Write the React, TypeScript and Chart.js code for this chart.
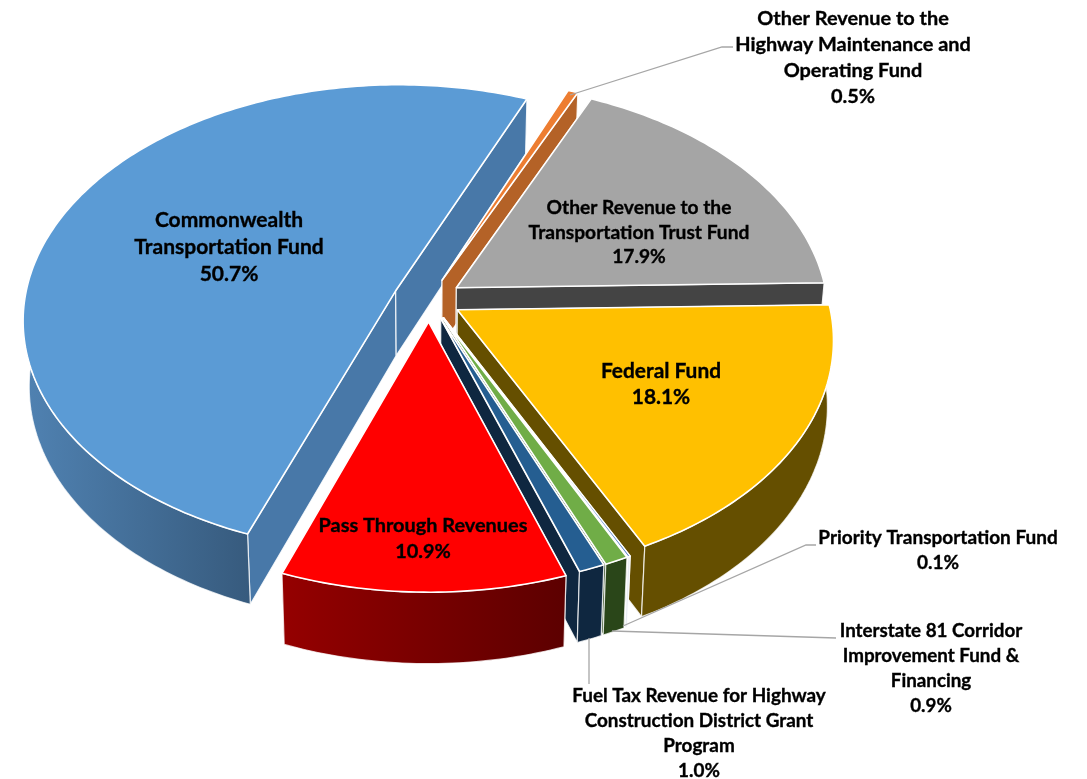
import React, { useEffect, useRef } from "react";
import { Chart, registerables } from "chart.js";

Chart.register(...registerables);

const categories = [
  "Other Revenue to the Highway Maintenance and Operating Fund",
  "Other Revenue to the Transportation Trust Fund",
  "Federal Fund",
  "Priority Transportation Fund",
  "Interstate 81 Corridor Improvement Fund & Financing",
  "Fuel Tax Revenue for Highway Construction District Grant Program",
  "Pass Through Revenues",
  "Commonwealth Transportation Fund",
];
const values = [0.5, 17.9, 18.1, 0.1, 0.9, 1.0, 10.9, 50.7];
const topColors = ["#ED7D31", "#A5A5A5", "#FFC000", "#4472C4", "#70AD47", "#255E91", "#FF0000", "#5B9BD5"];
const radialWallColors = ["#B46227", "#444444", "#654F00", "#E8ECF4", "#2A4619", "#0F2740", "#8B0000", "#4878A8"];
const outerWallLeft = ["#B46227", "#444444", "#654F00", "#E8ECF4", "#2A4619", "#0F2740", "#950000", "#5082B2"];
const outerWallRight = ["#B46227", "#444444", "#654F00", "#E8ECF4", "#2A4619", "#0F2740", "#5C0000", "#375B7E"];
const explodeOffsets = [33, 33, 33, 33, 33, 33, 36, 36];
const paintOrder = [7, 0, 1, 2, 3, 4, 5, 6];

const labelLines = [
  ["Other Revenue to the", "Highway Maintenance and", "Operating Fund"],
  ["Other Revenue to the", "Transportation Trust Fund"],
  ["Federal Fund"],
  ["Priority Transportation Fund"],
  ["Interstate 81 Corridor", "Improvement Fund &", "Financing"],
  ["Fuel Tax Revenue for Highway", "Construction District Grant", "Program"],
  ["Pass Through Revenues"],
  ["Commonwealth", "Transportation Fund"],
];
const labelCenterX = [853, 639, 661, 938, 931, 699, 423, 229];
const labelTopY = [19, 208, 371, 538, 631, 696, 526, 220];
const labelLineGap = [26, 24.5, 26, 25, 25, 25, 26, 27];
const labelFontPx = [19.9, 19.2, 20.9, 19, 18.8, 18.9, 19.9, 21];
const leaderPaths: (number[][] | null)[] = [
  [[570, 95], [722, 47], [733, 47]],
  null,
  null,
  [[623, 626], [806, 545], [816, 545]],
  [[612, 631], [836, 638]],
  [[589, 638], [589, 684]],
  null,
  null,
];

// View of the tilted pie
const CX = 429;
const CY = 299;
const A = 371;
const B = 232.4;
const PERSPECTIVE = 0.119;
const DEPTH = 65;
const DEPTH_GROW = 0.09;
const BOTTOM_SHRINK = 0.985;

function project(u: number, v: number, bottom: boolean): [number, number] {
  const k = 1 / (1 - PERSPECTIVE * v);
  let x = CX + A * u * k;
  let y = CY + B * v * k;
  if (bottom) {
    x = CX + (x - CX) * BOTTOM_SHRINK;
    y += DEPTH * (1 + DEPTH_GROW * v);
  }
  return [x, y];
}

function tracePath(ctx: CanvasRenderingContext2D, pts: [number, number][]) {
  ctx.beginPath();
  pts.forEach((p, i) => (i ? ctx.lineTo(p[0], p[1]) : ctx.moveTo(p[0], p[1])));
  ctx.closePath();
}

const pie3d = {
  id: "pie3d",
  beforeDatasetsDraw(chart: any) {
    const ctx: CanvasRenderingContext2D = chart.ctx;
    const arcs = chart.getDatasetMeta(0).data;
    ctx.save();
    ctx.lineJoin = "round";
    paintOrder.forEach((i) => {
      const arc = arcs[i];
      const e = arc.options.offset / arc.outerRadius;
      const a0 = arc.startAngle;
      const a1 = arc.endAngle;
      const mid = (a0 + a1) / 2;
      const ox = Math.cos(mid) * e;
      const oy = Math.sin(mid) * e;
      const steps = Math.max(2, Math.ceil(((a1 - a0) * 180) / Math.PI));
      const top: [number, number][] = [];
      const bot: [number, number][] = [];
      const frontTop: [number, number][] = [];
      const frontBot: [number, number][] = [];
      for (let s = 0; s <= steps; s++) {
        const a = a0 + ((a1 - a0) * s) / steps;
        const t = project(ox + Math.cos(a), oy + Math.sin(a), false);
        const b = project(ox + Math.cos(a), oy + Math.sin(a), true);
        top.push(t);
        bot.push(b);
        if (Math.sin(a) > 0) {
          frontTop.push(t);
          frontBot.push(b);
        }
      }
      const apexT = project(ox, oy, false);
      const apexB = project(ox, oy, true);

      // radial walls
      [[top[0], bot[0]], [top[steps], bot[steps]]].forEach(([t, b]) => {
        tracePath(ctx, [apexT, t, b, apexB]);
        ctx.fillStyle = radialWallColors[i];
        ctx.fill();
        ctx.strokeStyle = "rgba(255,255,255,0.85)";
        ctx.lineWidth = 1.2;
        ctx.stroke();
      });

      // outer curved wall, the part that faces the viewer
      if (frontTop.length > 1) {
        const xs = frontTop.map((p) => p[0]);
        const grad = ctx.createLinearGradient(Math.min(...xs), 0, Math.max(...xs), 0);
        grad.addColorStop(0, outerWallLeft[i]);
        grad.addColorStop(1, outerWallRight[i]);
        tracePath(ctx, [...frontTop, ...frontBot.slice().reverse()]);
        ctx.fillStyle = grad;
        ctx.fill();
        ctx.strokeStyle = "rgba(255,255,255,0.75)";
        ctx.lineWidth = 1.2;
        ctx.stroke();
      }

      // top face
      tracePath(ctx, [apexT, ...top]);
      ctx.fillStyle = arc.options.backgroundColor;
      ctx.fill();
      ctx.strokeStyle = "#FFFFFF";
      ctx.lineWidth = 1.6;
      ctx.stroke();
    });
    ctx.restore();
    return false;
  },
  afterDraw(chart: any) {
    const ctx: CanvasRenderingContext2D = chart.ctx;
    ctx.save();
    ctx.strokeStyle = "#A6A6A6";
    ctx.lineWidth = 1.3;
    leaderPaths.forEach((path) => {
      if (!path) return;
      ctx.beginPath();
      path.forEach((p, k) => (k ? ctx.lineTo(p[0], p[1]) : ctx.moveTo(p[0], p[1])));
      ctx.stroke();
    });
    ctx.fillStyle = "#000000";
    ctx.strokeStyle = "#000000";
    ctx.lineWidth = 0.35;
    ctx.textAlign = "center";
    ctx.textBaseline = "middle";
    categories.forEach((_, i) => {
      ctx.font = `bold ${labelFontPx[i]}px Lato, "Open Sans", sans-serif`;
      const lines = [...labelLines[i], `${values[i].toFixed(1)}%`];
      lines.forEach((line, k) => {
        const y = labelTopY[i] + k * labelLineGap[i];
        ctx.fillText(line, labelCenterX[i], y);
        ctx.strokeText(line, labelCenterX[i], y);
      });
    });
    ctx.restore();
  },
};

export default function App() {
  const ref = useRef<HTMLCanvasElement>(null);
  useEffect(() => {
    document.body.style.margin = "0";
    const chart = new Chart(ref.current as HTMLCanvasElement, {
      type: "pie",
      data: {
        labels: categories,
        datasets: [{ data: values, backgroundColor: topColors, offset: explodeOffsets, borderWidth: 0 }],
      },
      options: {
        animation: false,
        responsive: false,
        rotation: 22.6,
        plugins: { legend: { display: false }, tooltip: { enabled: false } },
      },
      plugins: [pie3d],
    } as any);
    return () => chart.destroy();
  }, []);
  return (
    <div style={{ position: "absolute", left: 0, top: 0, width: 1087, height: 779, background: "#fff" }}>
      <canvas ref={ref} width={1087} height={779} style={{ display: "block" }} />
    </div>
  );
}
